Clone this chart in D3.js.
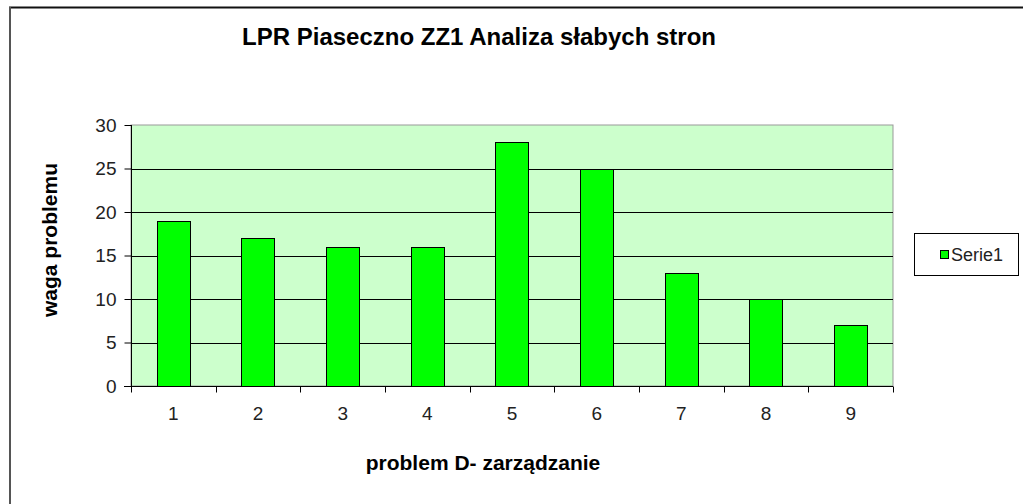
<!DOCTYPE html>
<html>
<head>
<meta charset="utf-8">
<script src="https://cdn.jsdelivr.net/npm/d3@7"></script>
<style>
  body { margin: 0; background: #fff; }
  text { font-family: "Liberation Sans", Arial, sans-serif; }
</style>
</head>
<body>
<svg id="chart"></svg>
<script>
const categories = ["1", "2", "3", "4", "5", "6", "7", "8", "9"];
const serie1 = [19, 17, 16, 16, 28, 25, 13, 10, 7];
const yTicks = [0, 5, 10, 15, 20, 25, 30];
const seriesName = "Serie1";

const width = 1023, height = 504;
const plot = { left: 131, right: 893, top: 125, bottom: 386 };

const svg = d3.select("#chart")
    .attr("width", width)
    .attr("height", height);

svg.append("rect")
    .attr("width", width).attr("height", height)
    .attr("fill", "#fff");

// outer frame (only top and left visible)
svg.append("line")
    .attr("x1", 9).attr("x2", width).attr("y1", 7.5).attr("y2", 7.5)
    .attr("stroke", "#111").attr("stroke-width", 2);
svg.append("line")
    .attr("x1", 10).attr("x2", 10).attr("y1", 7).attr("y2", height)
    .attr("stroke", "#555").attr("stroke-width", 2);

const x = d3.scaleBand()
    .domain(categories)
    .range([plot.left, plot.right])
    .paddingInner(0)
    .paddingOuter(0);

const y = d3.scaleLinear()
    .domain([0, 30])
    .range([plot.bottom, plot.top]);

// plot area
svg.append("rect")
    .attr("x", plot.left).attr("y", plot.top)
    .attr("width", plot.right - plot.left)
    .attr("height", plot.bottom - plot.top)
    .attr("fill", "#ccffcc")
    .attr("stroke", "#999")
    .attr("stroke-width", 1);

// gridlines
svg.append("g")
    .selectAll("line")
    .data(yTicks.filter(d => d > 0 && d < 30))
    .join("line")
    .attr("x1", plot.left).attr("x2", plot.right)
    .attr("y1", d => Math.round(y(d)) + 0.5)
    .attr("y2", d => Math.round(y(d)) + 0.5)
    .attr("stroke", "#000");

// bars
const barW = x.bandwidth() * 0.39;
svg.append("g")
    .selectAll("rect")
    .data(serie1)
    .join("rect")
    .attr("x", (d, i) => Math.round(x(categories[i]) + (x.bandwidth() - barW) / 2) + 0.5)
    .attr("y", d => Math.round(y(d)) + 0.5)
    .attr("width", Math.round(barW))
    .attr("height", d => Math.round(y(0)) - Math.round(y(d)))
    .attr("fill", "#00ff00")
    .attr("stroke", "#000")
    .attr("stroke-width", 1);

// y axis
const yAxis = svg.append("g")
    .attr("transform", `translate(${plot.left + 0.5},0)`)
    .call(d3.axisLeft(y).tickValues(yTicks).tickSize(7).tickPadding(8));
yAxis.select(".domain").attr("stroke", "#000").attr("d", `M0,${plot.top}V${plot.bottom}`);
yAxis.selectAll(".tick line").attr("stroke", "#000");
yAxis.selectAll(".tick text")
    .attr("font-size", 19)
    .attr("font-family", "Liberation Sans, Arial, sans-serif")
    .attr("fill", "#222");

// x axis
const xAxis = svg.append("g")
    .attr("transform", `translate(0,${plot.bottom + 0.5})`)
    .call(d3.axisBottom(x).tickSize(0).tickPadding(20));
xAxis.select(".domain").attr("stroke", "#000").attr("d", `M${plot.left - 7},0H${plot.right}`);
xAxis.selectAll(".tick text")
    .attr("font-size", 19)
    .attr("font-family", "Liberation Sans, Arial, sans-serif")
    .attr("fill", "#222");
// ticks between categories
xAxis.append("g")
    .selectAll("line")
    .data(categories.concat(["end"]))
    .join("line")
    .attr("x1", (d, i) => Math.round(plot.left + i * x.step()) + 0.5)
    .attr("x2", (d, i) => Math.round(plot.left + i * x.step()) + 0.5)
    .attr("y1", 0).attr("y2", 6)
    .attr("stroke", "#000");

// title
svg.append("text")
    .attr("x", 479).attr("y", 45)
    .attr("text-anchor", "middle")
    .attr("font-size", 24).attr("font-weight", "bold")
    .text("LPR Piaseczno ZZ1 Analiza słabych stron");

// axis titles
svg.append("text")
    .attr("x", 483).attr("y", 470)
    .attr("text-anchor", "middle")
    .attr("font-size", 21).attr("font-weight", "bold")
    .text("problem D- zarządzanie");

svg.append("text")
    .attr("transform", "translate(57,240) rotate(-90)")
    .attr("text-anchor", "middle")
    .attr("font-size", 21).attr("font-weight", "bold")
    .text("waga problemu");

// legend
const legend = svg.append("g");
legend.append("rect")
    .attr("x", 914.5).attr("y", 233.5)
    .attr("width", 104).attr("height", 42)
    .attr("fill", "#fff").attr("stroke", "#000");
legend.append("rect")
    .attr("x", 940.5).attr("y", 250.5)
    .attr("width", 8).attr("height", 8)
    .attr("fill", "#00ff00").attr("stroke", "#000");
legend.append("text")
    .attr("x", 951).attr("y", 261)
    .attr("font-size", 18)
    .attr("fill", "#222")
    .text(seriesName);
</script>
</body>
</html>
